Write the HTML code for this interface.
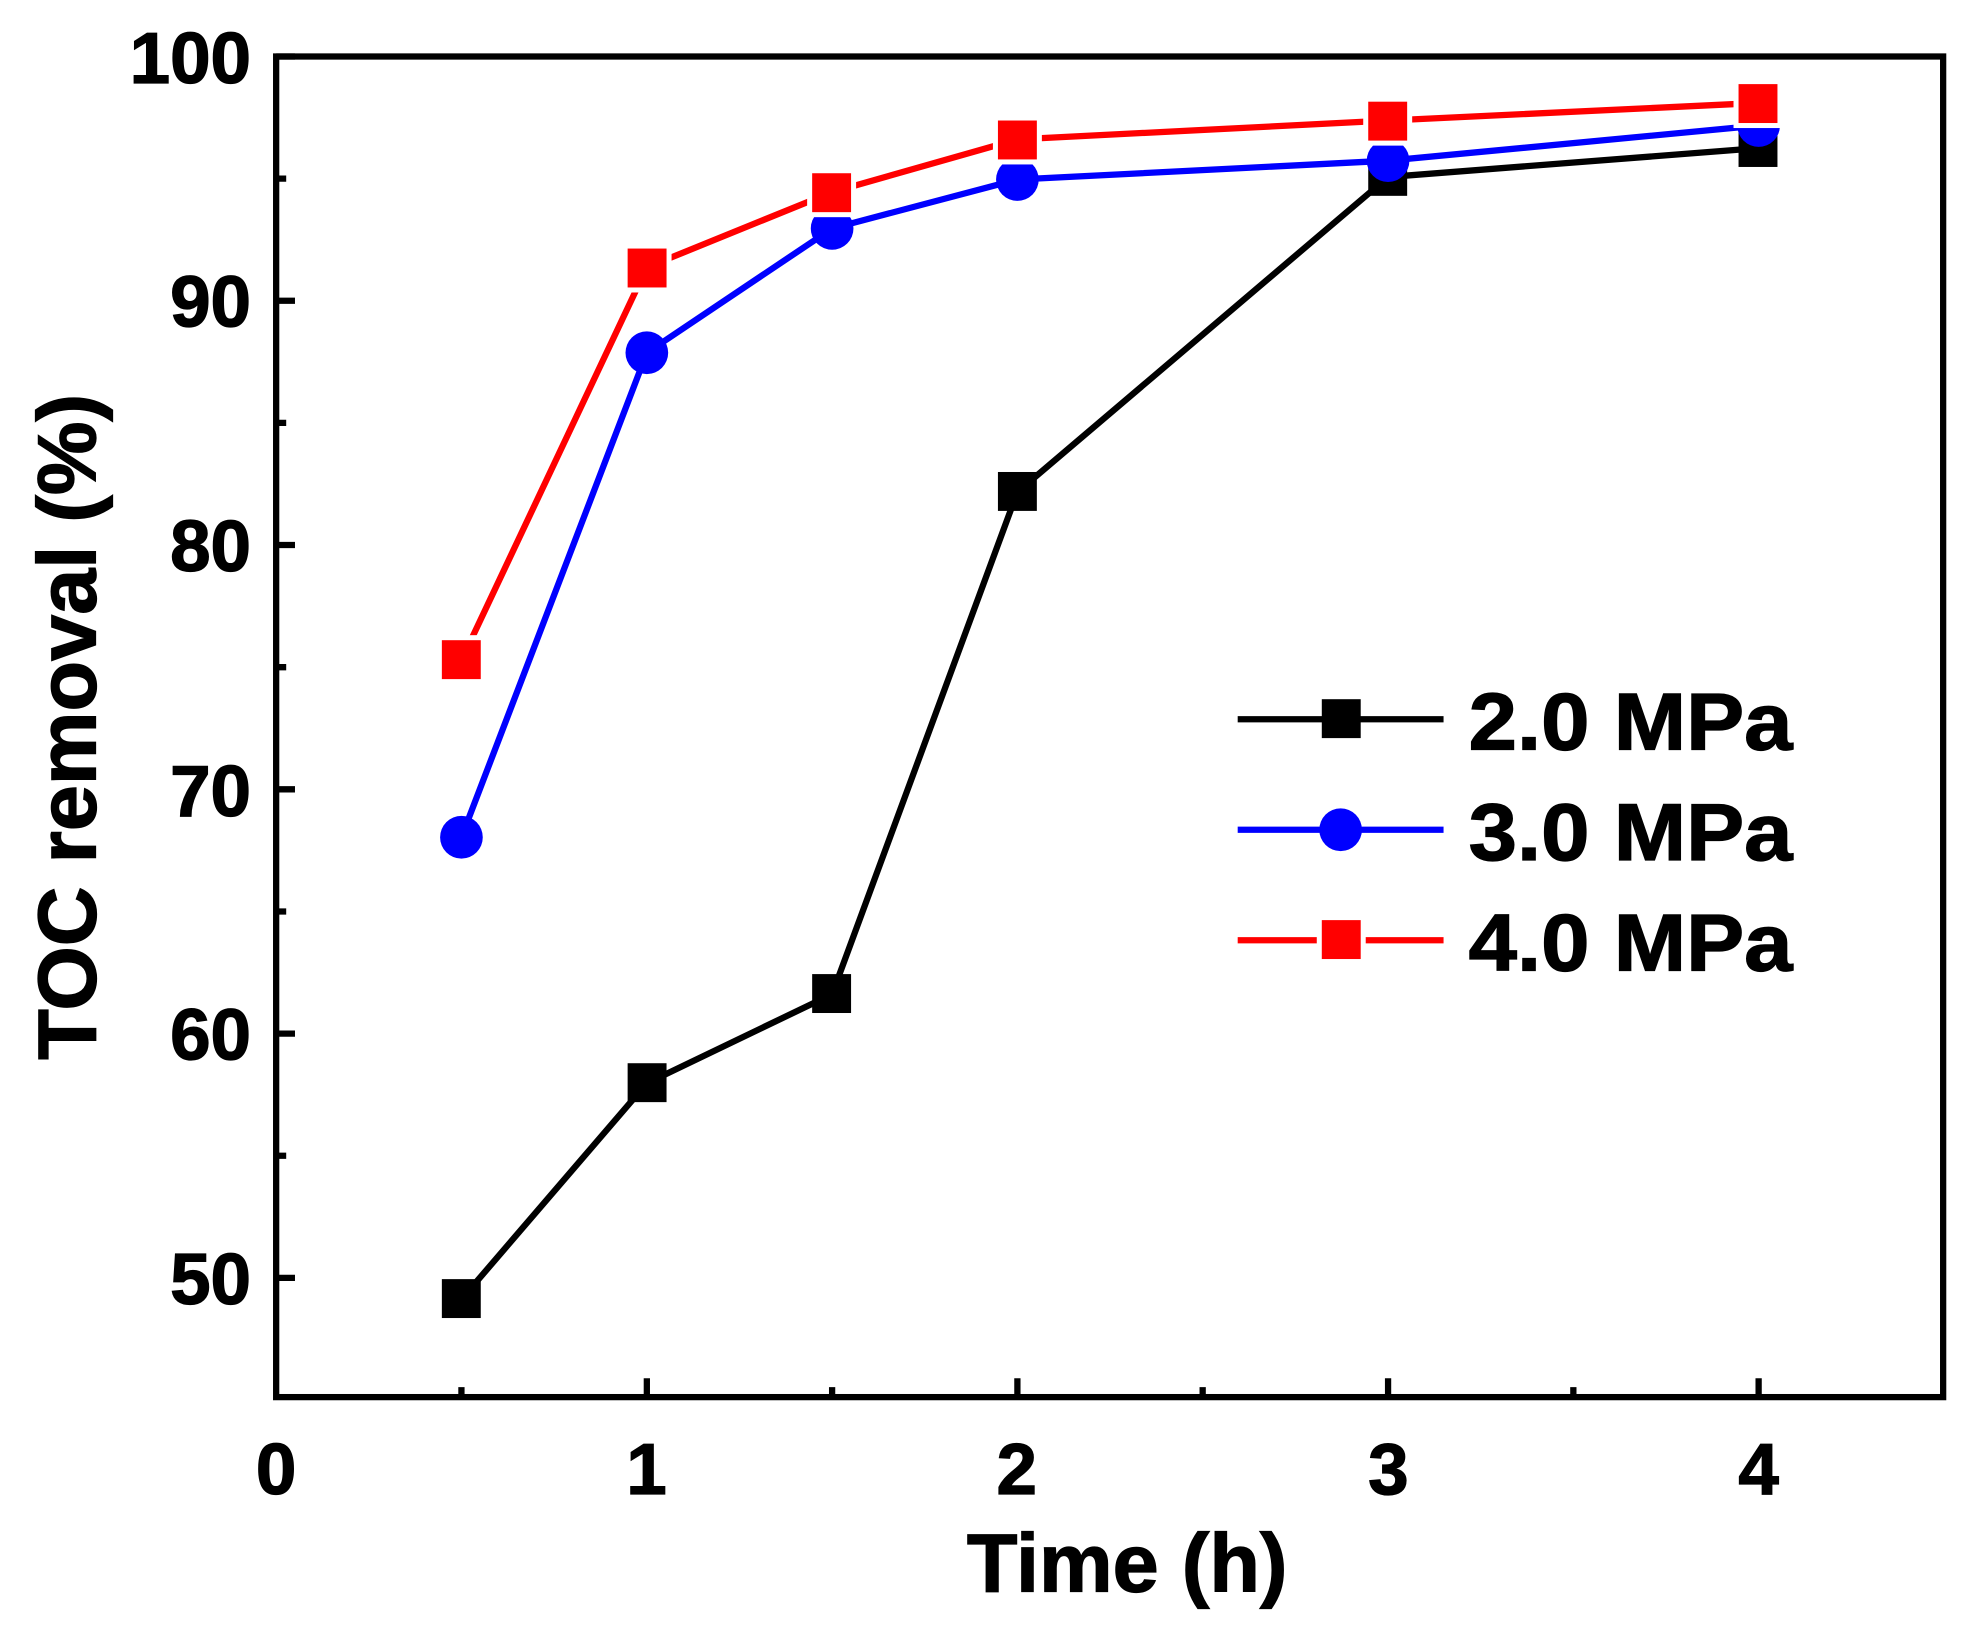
<!DOCTYPE html>
<html><head><meta charset="utf-8"><style>html,body{margin:0;padding:0;background:#fff}svg{display:block}</style></head>
<body>
<svg width="1967" height="1634" viewBox="0 0 1567 1301.7" xmlns="http://www.w3.org/2000/svg" font-family="Liberation Sans, sans-serif" font-weight="bold">
<rect width="1567" height="1302" fill="#fff"/>
<g stroke="#000" stroke-width="5" fill="none">
<rect x="220" y="45" width="1328" height="1068"/>
<path d="M515.3 1113v-15M810.5 1113v-15M1105.8 1113v-15M1401 1113v-15M367.6 1113v-8M662.9 1113v-8M958.1 1113v-8M1253.4 1113v-8"/>
<path d="M220 1018h15M220 823.4h15M220 628.8h15M220 434.2h15M220 239.6h15M220 45h15M220 920.7h8M220 726.1h8M220 531.5h8M220 336.9h8M220 142.3h8"/>
</g>
<g font-size="58" text-anchor="end" stroke="#000" stroke-width="1">
<text x="200" y="1039">50</text><text x="200" y="844">60</text><text x="200" y="650">70</text><text x="200" y="455">80</text><text x="200" y="260">90</text><text x="200" y="66">100</text>
</g>
<g font-size="58" text-anchor="middle" stroke="#000" stroke-width="1">
<text x="220" y="1190">0</text><text x="515" y="1190">1</text><text x="810" y="1190">2</text><text x="1106" y="1190">3</text><text x="1401" y="1190">4</text>
</g>
<text x="898" y="1268" font-size="66" text-anchor="middle" stroke="#000" stroke-width="1">Time (h)</text>
<text transform="translate(76 579) rotate(-90)" font-size="66" text-anchor="middle" stroke="#000" stroke-width="1">TOC removal (%)</text>
<polyline fill="none" stroke="#000" stroke-width="5" points="367.6,1035 515.3,863 662.9,792 810.5,392 1105.8,141 1401,118"/>
<g fill="#000"><rect x="352" y="1019" width="31" height="31"/><rect x="500" y="847" width="31" height="31"/><rect x="647" y="776" width="31" height="31"/><rect x="795" y="376" width="31" height="31"/><rect x="1090" y="125" width="31" height="31"/><rect x="1385" y="102" width="31" height="31"/></g>
<polyline fill="none" stroke="#0000ff" stroke-width="5" points="367.6,667 515.3,281 662.9,182 810.5,143 1105.8,128 1401,100"/>
<g fill="#0000ff"><circle cx="367.6" cy="667" r="17"/><circle cx="515.3" cy="281" r="17"/><circle cx="662.9" cy="182" r="17"/><circle cx="810.5" cy="143" r="17"/><circle cx="1105.8" cy="128" r="17"/><circle cx="1401" cy="100" r="17"/></g>
<polyline fill="none" stroke="#ff0000" stroke-width="5" points="367.6,526 515.3,213 662.9,153 810.5,111 1105.8,96 1401,82"/>
<g fill="#ff0000" stroke="#fff" stroke-width="4"><rect x="350" y="508" width="35" height="35"/><rect x="498" y="196" width="35" height="35"/><rect x="645" y="136" width="35" height="35"/><rect x="793" y="94" width="35" height="35"/><rect x="1088" y="79" width="35" height="35"/><rect x="1383" y="65" width="35" height="35"/></g>
<line x1="986" y1="573" x2="1150" y2="573" stroke="#000" stroke-width="5"/><rect x="1053" y="557" width="31" height="31" fill="#000"/>
<line x1="986" y1="661" x2="1150" y2="661" stroke="#0000ff" stroke-width="5"/><circle cx="1068" cy="661" r="17" fill="#0000ff"/>
<line x1="986" y1="749" x2="1150" y2="749" stroke="#ff0000" stroke-width="5"/><rect x="1051" y="731" width="35" height="35" fill="#ff0000" stroke="#fff" stroke-width="4"/>
<g font-size="64" stroke="#000" stroke-width="1"><text x="1170" y="597" textLength="258" lengthAdjust="spacingAndGlyphs">2.0 MPa</text><text x="1170" y="685" textLength="258" lengthAdjust="spacingAndGlyphs">3.0 MPa</text><text x="1170" y="773" textLength="258" lengthAdjust="spacingAndGlyphs">4.0 MPa</text></g>
</svg>
</body></html>
